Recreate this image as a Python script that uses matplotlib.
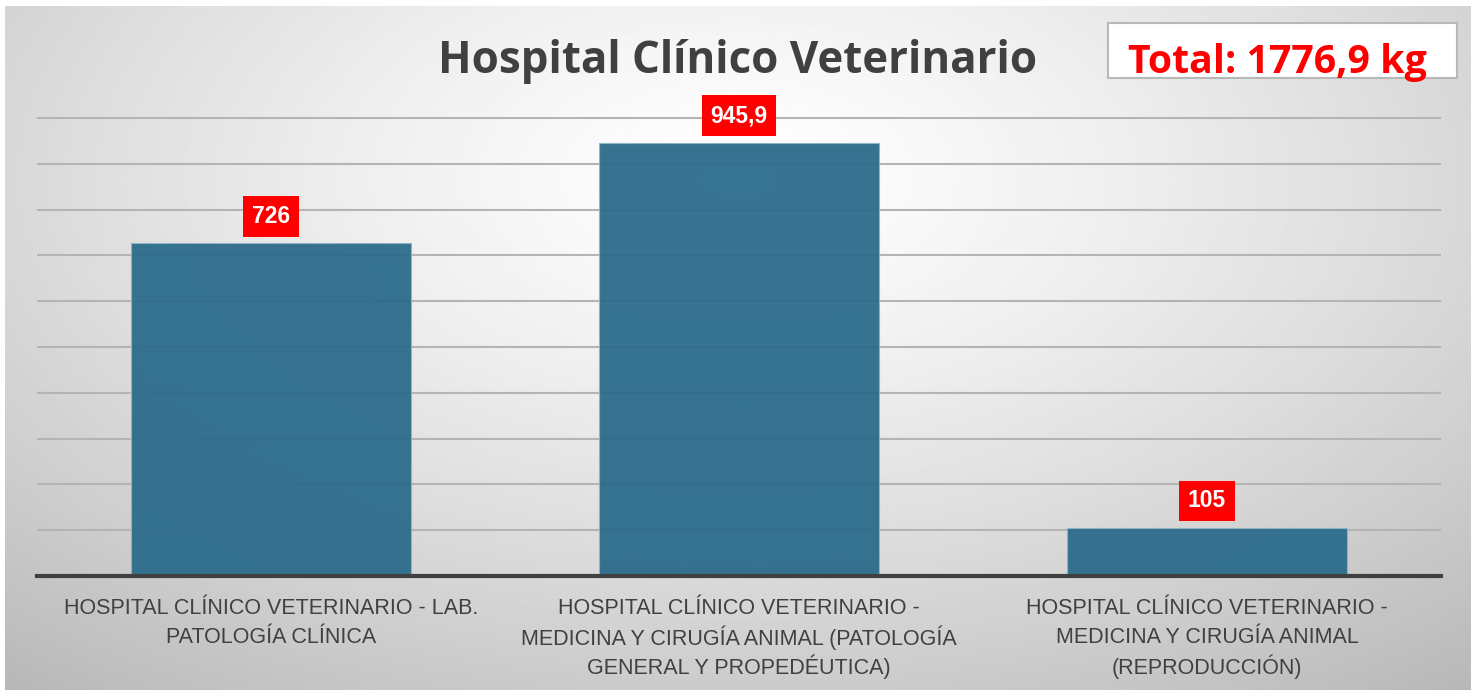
import numpy as np
import matplotlib
matplotlib.use("Agg")
import matplotlib.pyplot as plt
from matplotlib.transforms import blended_transform_factory

# données du graphique
categories = [
    "HOSPITAL CLÍNICO VETERINARIO - LAB.\nPATOLOGÍA CLÍNICA",
    "HOSPITAL CLÍNICO VETERINARIO -\nMEDICINA Y CIRUGÍA ANIMAL (PATOLOGÍA\nGENERAL Y PROPEDÉUTICA)",
    "HOSPITAL CLÍNICO VETERINARIO -\nMEDICINA Y CIRUGÍA ANIMAL\n(REPRODUCCIÓN)",
]
valeurs = [726, 945.9, 105]
etiquettes = ["726", "945,9", "105"]
titre = "Hospital Clínico Veterinario"
total = "Total: 1776,9 kg"

fig = plt.figure(figsize=(14.75, 6.93), dpi=100)

# fond en dégradé radial (blanc au centre, gris sur les bords)
fond = fig.add_axes([5 / 1475, 3 / 693, 1466 / 1475, 684 / 693])
yy, xx = np.mgrid[0:1:300j, 0:1:600j]
d = np.sqrt(((xx - 0.5) / 0.75) ** 2 + ((yy - 0.75) / 0.9) ** 2)
d = np.clip(d / d.max(), 0, 1)
img = 1.0 - 0.28 * d ** 1.3
fond.imshow(img, cmap="gray", vmin=0, vmax=1, aspect="auto", extent=[0, 1, 0, 1], origin="lower")
fond.set_axis_off()

ax = fig.add_axes([37 / 1475, 117 / 693, 1404 / 1475, 459 / 693])
ax.patch.set_alpha(0)
x = np.arange(len(valeurs))
ax.bar(x, valeurs, width=0.6, color="#2c6c8b", alpha=0.95, edgecolor="#8fb4c6", linewidth=0.8, zorder=3)
ax.set_xlim(-0.5, 2.5)
ax.set_ylim(0, 1002)
ax.set_yticks(np.arange(100, 1001, 100))
ax.yaxis.grid(True, color="#b4b4b4", linewidth=1.5, zorder=1)
ax.tick_params(axis="y", left=False, labelleft=False)
ax.set_xticks(x)
ax.tick_params(axis="x", bottom=False, labelbottom=False)
for cote in ["top", "left", "right"]:
    ax.spines[cote].set_visible(False)
ax.spines["bottom"].set_color("#404040")
ax.spines["bottom"].set_linewidth(3)
ax.spines["bottom"].set_zorder(4)

# étiquettes des catégories, une ligne à la fois pour garder un interligne régulier
trans = blended_transform_factory(ax.transData, ax.transAxes)
for xi, cat in zip(x, categories):
    for k, ligne in enumerate(cat.split("\n")):
        ax.annotate(ligne, (xi, 0), xycoords=trans, xytext=(0, -23.5 - 21 * k), textcoords="offset points",
                    ha="center", va="center", fontsize=15.5, color="#404040", family="Liberation Sans",
                    annotation_clip=False)

# étiquettes rouges au-dessus des barres
for xi, v, t in zip(x, valeurs, etiquettes):
    ax.annotate(t, (xi, v), xytext=(0, 19.5), textcoords="offset points", ha="center", va="center",
                fontsize=16.5, fontweight="bold", color="white", family="Liberation Sans",
                bbox=dict(boxstyle="square,pad=0.38", fc="#ff0000", ec="none"), zorder=5)

fig.text(0.5, 1 - 61 / 693, titre, ha="center", va="center", fontsize=31.6, fontweight="bold",
         color="#404040", family="Open Sans")

# encadré du total
fig.patches.append(plt.Rectangle((1108 / 1475, 1 - 78 / 693), 349 / 1475, 55 / 693, transform=fig.transFigure,
                                 fc="white", ec="#b8b8b8", lw=1.5, zorder=2))
fig.text(1277 / 1475, 1 - 63 / 693, total, ha="center", va="center", fontsize=28.3, fontweight="bold",
         color="#ff0000", family="Open Sans", zorder=3)

fig.savefig("out.png", dpi=100)
